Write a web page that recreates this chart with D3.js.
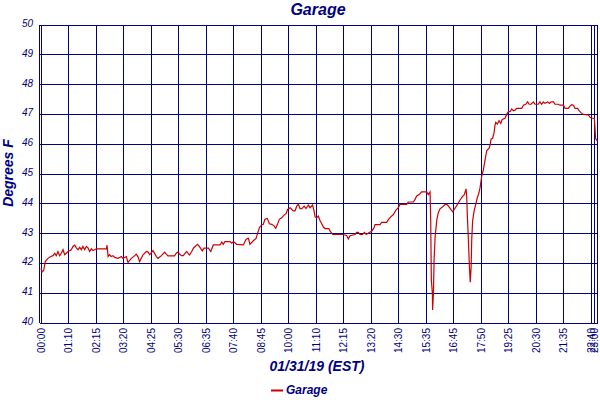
<!DOCTYPE html>
<html>
<head>
<meta charset="utf-8">
<script src="https://cdn.jsdelivr.net/npm/d3@7"></script>
<style>
  html, body { margin: 0; padding: 0; background: #ffffff; }
  svg { display: block; font-family: "Liberation Sans", Arial, sans-serif; }
</style>
</head>
<body>
<svg id="chart" width="600" height="400"></svg>
<script>
// ---- Data (sample index = 5-minute readings, temperature in °F) ----
const sampleIdx = [
  0,0.5,1.3,2,3.3,4.6,5.7,6.5,7.2,8,8.8,9.6,10.4,11.2,12.8,14.3,15.1,15.9,16.7,17.5,
  18.3,19.1,19.8,20.6,21.4,22.2,23,23.8,24.6,26.1,30.9,31.2,31.7,32.4,33.2,34,34.8,36.4,38,38.7,
  40.3,41.1,42.7,44.3,45,45.8,46.6,48.2,49.8,50.6,51.3,52.9,54.5,55.3,56.9,58.4,59.2,60,63.1,63.9,
  64.7,65.5,66.3,67.2,68.8,70.1,71.2,72,73.9,74.8,76.2,77,79.1,80.2,81.4,84.6,85.4,86.1,86.9,89.3,
  90.1,90.9,92.4,95.6,96.9,98,98.7,100.3,101.6,102.2,103.2,104.3,105,105.8,106.9,107.9,109,110.1,110.9,111.7,
  112.6,113.7,114.8,115.8,116.5,117.7,118.5,119.2,120,120.8,121.6,122.4,123.2,124.3,125.2,126.3,127.1,128.3,129,129.5,
  130.2,131,131.8,132.6,133.4,134.2,136,136.6,137.8,142.8,144.4,145.2,146,148.4,149.1,149.9,150.7,151.9,152.8,153.6,
  155.1,156.2,157.3,157.8,160.2,160.9,163.3,164.1,165.2,166.5,167.7,168.8,169.6,172.8,173.5,175.9,176.7,177.5,178.7,179.8,
  182.2,183,183.8,184.1,184.4,184.9,185,185.4,185.7,186.2,187,187.7,188.5,189.8,190.9,191.7,192.5,193.6,194.5,195.6,
  196.7,197.9,199,200,200.8,201.1,201.4,201.9,202.4,202.8,203.2,203.5,203.9,204.6,205.4,206.1,206.9,207.4,208.2,209,
  209.8,210.6,211.7,212.2,212.6,213.4,214,214.5,214.8,215.6,216.4,217.2,217.9,219.2,220,220.8,221.6,222.4,223.2,223.9,
  224.7,227.1,227.9,229,229.9,230.6,231.5,232.6,233.4,234.9,235.7,236.5,237.3,238.1,239.4,240.2,241,242.1,242.8,244.4,
  245.2,246.8,247.6,249.1,249.9,250.7,251.5,252.3,253.5,254.3,255.1,256.2,258.6,259.4,260.2,261.4,261.7,262,262.9
];
const tempF = [
  41.83,41.71,41.77,42.06,42.17,42.23,42.26,42.34,42.26,42.40,42.26,42.34,42.46,42.29,42.40,42.46,42.57,42.61,42.52,42.46,
  42.54,42.46,42.57,42.46,42.57,42.52,42.40,42.49,42.43,42.49,42.49,42.61,42.23,42.29,42.23,42.26,42.20,42.17,42.23,42.17,
  42.23,42.03,42.17,42.26,42.31,42.23,42.06,42.29,42.40,42.38,42.29,42.43,42.23,42.17,42.26,42.38,42.31,42.25,42.25,42.34,
  42.38,42.31,42.26,42.26,42.40,42.28,42.40,42.51,42.64,42.57,42.42,42.51,42.51,42.40,42.62,42.62,42.72,42.64,42.73,42.73,
  42.68,42.73,42.64,42.62,42.81,42.84,42.64,42.76,42.84,42.98,43.20,43.29,43.31,43.48,43.51,43.33,43.31,43.26,43.18,43.31,
  43.48,43.53,43.62,43.67,43.81,43.87,43.81,43.76,43.76,43.92,43.98,43.84,43.84,43.92,43.84,43.96,43.87,43.96,43.76,43.56,
  43.53,43.59,43.44,43.33,43.22,43.17,43.17,43.08,42.97,42.97,42.94,42.82,42.93,42.97,43.04,43.04,42.97,42.97,43.04,42.97,
  43.04,43.08,43.19,43.30,43.30,43.38,43.38,43.47,43.56,43.64,43.79,43.87,43.98,43.98,44.06,44.06,44.15,44.26,44.31,44.40,
  44.40,44.31,44.40,43.47,41.45,41.00,40.44,41.00,42.12,42.90,43.47,43.70,43.83,43.90,43.98,43.98,43.92,43.81,43.73,43.85,
  43.97,44.12,44.23,44.31,44.50,44.26,43.64,42.81,41.87,41.37,41.87,42.81,43.42,43.76,43.98,44.20,44.37,44.53,44.92,45.14,
  45.48,45.79,45.87,45.98,46.17,46.20,46.37,46.64,46.73,46.68,46.79,46.70,46.83,46.87,47.00,47.09,47.09,47.18,47.12,47.14,
  47.20,47.20,47.31,47.34,47.42,47.34,47.34,47.42,47.34,47.34,47.42,47.34,47.42,47.37,47.42,47.37,47.42,47.42,47.34,47.34,
  47.31,47.31,47.20,47.20,47.28,47.33,47.31,47.20,47.20,47.12,47.06,47.00,46.98,46.90,46.87,46.87,46.59,46.20,46.10
];
const yTicks = [40, 41, 42, 43, 44, 45, 46, 47, 48, 49, 50];
const xTickIdx = [0, 13, 26, 39, 52, 65, 78, 91, 104, 117, 130, 143, 156, 169, 182, 195, 208, 221, 234, 247, 260, 261.3];
const xTickLabels = ["00:00","01:10","02:15","03:20","04:25","05:30","06:35","07:40","08:45","10:00","11:10",
                     "12:15","13:20","14:30","15:35","16:45","17:50","19:25","20:30","21:35","22:40","23:00"];
const chartTitle = "Garage";
const xTitle = "01/31/19 (EST)";
const yTitle = "Degrees F";
const seriesName = "Garage";

// ---- Drawing ----
const navy = "#000080";
const red = "#cc0000";
const svg = d3.select("#chart");
const plotL = 39.5, plotR = 597.7, plotT = 25, plotB = 323;

const x = d3.scaleLinear().domain([0, 263]).range([41, plotR]);
const y = d3.scaleLinear().domain([40, 50]).range([plotB, plotT]);
const crisp = v => Math.round(v - 0.5) + 0.5;

const grid = svg.append("g").attr("shape-rendering", "crispEdges")
  .attr("stroke", navy).attr("stroke-width", 1);

// horizontal gridlines
grid.selectAll("line.h").data(yTicks).join("line")
  .attr("x1", plotL).attr("x2", plotR)
  .attr("y1", d => crisp(y(d))).attr("y2", d => crisp(y(d)));

// vertical gridlines
grid.selectAll("line.v").data(xTickIdx).join("line")
  .attr("x1", d => crisp(x(d))).attr("x2", d => crisp(x(d)))
  .attr("y1", plotT).attr("y2", plotB);

// frame lines
grid.append("line").attr("x1", crisp(plotL)).attr("x2", crisp(plotL)).attr("y1", plotT).attr("y2", plotB);
grid.append("line").attr("x1", crisp(plotR)).attr("x2", crisp(plotR)).attr("y1", plotT).attr("y2", plotB);

// y tick labels
svg.append("g").selectAll("text").data(yTicks).join("text")
  .attr("x", 33).attr("y", d => y(d) + 2)
  .attr("text-anchor", "end")
  .attr("font-size", 10).attr("font-style", "italic")
  .attr("fill", navy)
  .text(d => d);

// x tick labels (rotated)
svg.append("g").selectAll("text").data(xTickIdx).join("text")
  .attr("transform", d => `translate(${x(d) + 3.5},${plotB + 5}) rotate(-90)`)
  .attr("text-anchor", "end")
  .attr("font-size", 10)
  .attr("fill", navy)
  .text((d, i) => xTickLabels[i]);

// data line
const pts = sampleIdx.map((s, i) => [s, tempF[i]]);
svg.append("path")
  .datum(pts)
  .attr("fill", "none")
  .attr("stroke", red)
  .attr("stroke-width", 1.2)
  .attr("d", d3.line().x(d => x(d[0])).y(d => y(d[1])));

// titles
svg.append("text").attr("x", 318).attr("y", 15)
  .attr("text-anchor", "middle").attr("font-size", 16)
  .attr("font-weight", "bold").attr("font-style", "italic")
  .attr("fill", navy).text(chartTitle);

svg.append("text").attr("x", 317).attr("y", 371)
  .attr("text-anchor", "middle").attr("font-size", 14)
  .attr("font-weight", "bold").attr("font-style", "italic")
  .attr("fill", navy).text(xTitle);

svg.append("text").attr("transform", "translate(13,173) rotate(-90)")
  .attr("text-anchor", "middle").attr("font-size", 14)
  .attr("font-weight", "bold").attr("font-style", "italic")
  .attr("fill", navy).text(yTitle);

// legend
svg.append("line").attr("x1", 271).attr("x2", 283).attr("y1", 390.5).attr("y2", 390.5)
  .attr("stroke", red).attr("stroke-width", 2);
svg.append("text").attr("x", 286).attr("y", 394)
  .attr("font-size", 12).attr("font-weight", "bold").attr("font-style", "italic")
  .attr("fill", navy).text(seriesName);
</script>
</body>
</html>
